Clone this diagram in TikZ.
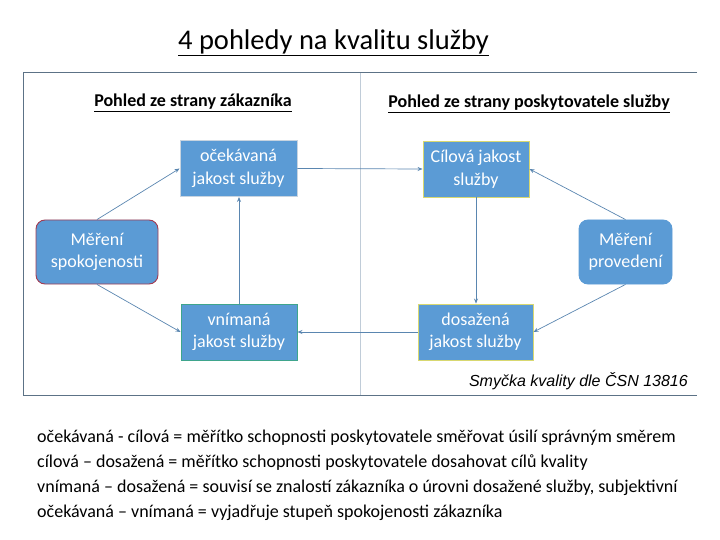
\documentclass[tikz,border=0pt]{standalone}
\usepackage{fontspec}
\setmainfont{Carlito}
\newfontfamily\arialfont{Liberation Sans}
\usetikzlibrary{arrows.meta}
\definecolor{boxblue}{HTML}{5B9BD5}
\definecolor{linkblue}{HTML}{5A86B0}
\definecolor{framec}{HTML}{5C7286}
\definecolor{divc}{HTML}{C0CCD8}
\definecolor{redb}{HTML}{A23B52}
\definecolor{greenb}{HTML}{3FA58C}
\definecolor{yellowb}{HTML}{D8D870}
\definecolor{lightb}{HTML}{C8D4E0}
\tikzset{
  qbox/.style={fill=boxblue, text=white, inner sep=0pt, align=center,
    font=\fontsize{18}{22.5}\selectfont, line width=0.9pt},
  rbox/.style={qbox, rounded corners=9pt},
  link/.style={draw=linkblue, line width=0.7pt, -{Stealth[length=5pt,width=4pt]}},
  heading/.style={font=\fontsize{18}{21}\selectfont\bfseries, inner sep=0pt},
  body/.style={font=\fontsize{18}{21}\selectfont, anchor=west, inner sep=0pt}
}
\begin{document}
\begin{tikzpicture}[x=1pt,y=-1pt]
\useasboundingbox (0,0) rectangle (720,540);
% title
\node[inner sep=0pt, font=\fontsize{28.5}{32}\selectfont] (title) at (333.5,43) {\underline{4 pohledy na kvalitu služby}};
% frame
\coordinate (ftl) at (23,73);
\coordinate (ftr) at (697,73);
\coordinate (fbl) at (23,395);
\coordinate (fbr) at (697,395);
\draw[framec, line width=1pt] (ftr) -- (ftl) -- (fbl) -- (fbr);
\coordinate (dt) at (360,73);
\coordinate (db) at (360,395);
\draw[divc, line width=0.8pt] (dt) -- (db);
% headings
\node[heading] (h1) at (193,103) {\underline{Pohled ze strany zákazníka}};
\node[heading] (h2) at (529,104) {\underline{Pohled ze strany poskytovatele služby}};
% boxes
\node[qbox, draw=lightb, minimum width=117pt, minimum height=56pt] (ocek) at (238.5,168.5) {očekávaná\\jakost služby};
\node[qbox, draw=yellowb, minimum width=106pt, minimum height=56pt] (cil) at (476,169) {Cílová jakost\\služby};
\node[rbox, draw=redb, minimum width=122pt, minimum height=64pt] (spok) at (97,252) {Měření\\spokojenosti};
\node[rbox, draw=boxblue, minimum width=93pt, minimum height=64pt] (prov) at (625.5,252) {Měření\\provedení};
\node[qbox, draw=greenb, minimum width=116pt, minimum height=56pt] (vnim) at (239,332) {vnímaná\\jakost služby};
\node[qbox, draw=yellowb, minimum width=115pt, minimum height=56pt] (dos) at (475.5,332) {dosažená\\jakost služby};
% connectors
\draw[link] (spok.north) -- (ocek.west);
\draw[link] (spok.south) -- (vnim.west);
\draw[link] (ocek.east) -- (cil.west);
\draw[link] (vnim.north) -- (vnim.north |- ocek.south);
\draw[link] (cil.south) -- (cil.south |- dos.north);
\draw[link] (dos.west) -- (vnim.east);
\draw[link] (prov.north) -- (cil.east);
\draw[link] (prov.south) -- (dos.east);
% caption
\node[inner sep=0pt, anchor=east, font=\arialfont\itshape\fontsize{16}{19}\selectfont] (cap) at (688,381) {Smyčka kvality dle ČSN 13816};
% body text
\node[body] (l1) at (37,438) {očekávaná - cílová = měřítko schopnosti poskytovatele směřovat úsilí správným směrem};
\node[body] (l2) at (37,463) {cílová – dosažená = měřítko schopnosti poskytovatele dosahovat cílů kvality};
\node[body] (l3) at (37,488) {vnímaná – dosažená = souvisí se znalostí zákazníka o úrovni dosažené služby, subjektivní};
\node[body] (l4) at (37,513) {očekávaná – vnímaná = vyjadřuje stupeň spokojenosti zákazníka};
\end{tikzpicture}
\end{document}
